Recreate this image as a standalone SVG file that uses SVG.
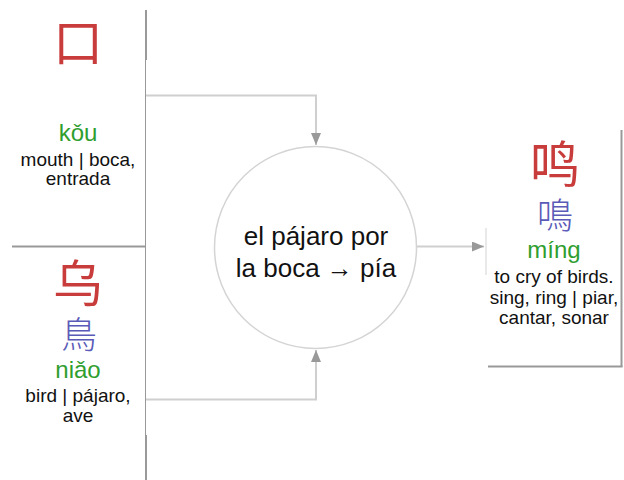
<svg xmlns="http://www.w3.org/2000/svg" width="624" height="480" viewBox="0 0 624 480">
<defs>
<style>
.bg{fill:#ffffff}
.edge{stroke:#999999;fill:none}
.thick{stroke-width:2}
.thin{stroke-width:1}
.han{font-family:"Noto Sans CJK SC","Noto Sans CJK TC",sans-serif;text-anchor:middle;fill:#c83c3c}
.trad{font-family:"Noto Sans CJK TC","Noto Sans CJK SC",sans-serif;text-anchor:middle;fill:#5a5ab8;font-weight:300}
.pin{font-family:"Liberation Sans",Arial,sans-serif;text-anchor:middle;fill:#2f9e2f;font-size:24px}
.gloss{font-family:"Liberation Sans",Arial,sans-serif;text-anchor:middle;fill:#111111;font-size:19px}
.mid{font-family:"Liberation Sans",Arial,sans-serif;text-anchor:middle;fill:#111111;font-size:26px}
.conn{stroke:#cfcfcf;stroke-width:2;fill:none}
</style>
<marker id="arr" viewBox="0 0 12 10" refX="12" refY="5" markerWidth="12" markerHeight="10" markerUnits="userSpaceOnUse" orient="auto">
<path d="M0,0 L12,5 L0,10 Z" fill="#999999"/>
</marker>
</defs>
<rect class="bg" x="0" y="0" width="624" height="480"/>

<g id="connectors">
<path class="conn" d="M146,95.5 H316 V145" marker-end="url(#arr)"/>
<path class="conn" d="M146,399.5 H316 V350" marker-end="url(#arr)"/>
<path class="conn" d="M417,246.5 H484" marker-end="url(#arr)"/>
</g>

<g id="node-kou">
<line class="edge thick" x1="146" y1="10" x2="146" y2="60"/>
<line class="edge thin" x1="145.5" y1="60" x2="145.5" y2="246"/>
<line class="edge thick" x1="12" y1="246.5" x2="146" y2="246.5"/>
<text class="han" x="78" y="61" font-size="50">口</text>
<text class="pin" x="78" y="141">kǒu</text>
<text class="gloss" x="78" y="165.5">mouth | boca,</text>
<text class="gloss" x="78" y="185">entrada</text>
</g>

<g id="node-niao">
<line class="edge thin" x1="145.5" y1="246" x2="145.5" y2="435"/>
<line class="edge thick" x1="146" y1="435" x2="146" y2="480"/>
<text class="han" x="78" y="302" font-size="50">乌</text>
<text class="trad" x="79" y="348" font-size="36">鳥</text>
<text class="pin" x="78" y="378">niǎo</text>
<text class="gloss" x="78" y="401.5">bird | pájaro,</text>
<text class="gloss" x="78" y="421.5">ave</text>
</g>

<g id="node-center">
<circle cx="315.5" cy="247.5" r="101" fill="#ffffff" stroke="#d4d4d4" stroke-width="1.5"/>
<text class="mid" x="316" y="245">el pájaro por</text>
<text class="mid" x="316" y="277">la boca → pía</text>
</g>

<g id="node-ming">
<line x1="486" y1="228" x2="486" y2="275" stroke="#e2e2e2" stroke-width="1.5"/>
<line class="edge thick" x1="621.5" y1="130" x2="621.5" y2="367"/>
<line class="edge thick" x1="488" y1="366.5" x2="622.5" y2="366.5"/>
<text class="han" x="555" y="183" font-size="50">鸣</text>
<text class="trad" x="555" y="229" font-size="36">鳴</text>
<text class="pin" x="554" y="258">míng</text>
<text class="gloss" x="554" y="282.5">to cry of birds.</text>
<text class="gloss" x="554" y="303.5">sing, ring | piar,</text>
<text class="gloss" x="554" y="324">cantar, sonar</text>
</g>
</svg>
